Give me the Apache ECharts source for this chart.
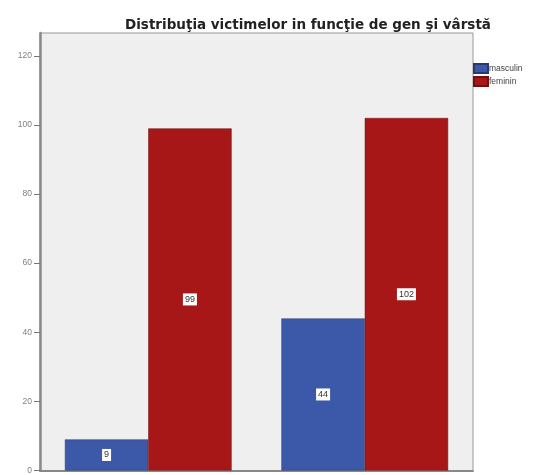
<!DOCTYPE html>
<html><head><meta charset="utf-8">
<script src="https://cdn.jsdelivr.net/npm/echarts@6/dist/echarts.min.js"></script>
<style>html,body{margin:0;padding:0;background:#fff}#c{width:534px;height:475px}</style>
</head><body><div id="c"></div>
<script>
const categories = ["Grupa 1", "Grupa 2"];
const masculin = [9, 44];
const feminin = [99, 102];
const seriesNames = ["masculin", "feminin"];
const yTicks = [0, 20, 40, 60, 80, 100, 120];

const chart = echarts.init(document.getElementById('c'));
const lbl = {
  show: true, position: 'inside', color: '#333', fontSize: 9,
  fontFamily: 'Liberation Sans', backgroundColor: '#fff', padding: [2, 2, 1, 2]
};
chart.setOption({
  animation: false,
  title: {
    text: 'Distribuţia victimelor in funcţie de gen şi vârstă',
    left: 303, textAlign: 'center', top: 13,
    textStyle: { fontSize: 13.5, fontWeight: 'bold', color: '#222', fontFamily: 'DejaVu Sans' }
  },
  legend: {
    orient: 'vertical', left: 473, top: 63, padding: 0, itemWidth: 14, itemHeight: 9, itemGap: 2,
    icon: 'rect',
    textStyle: { fontSize: 8.5, color: '#444', fontFamily: 'Liberation Sans', padding: [0, 0, 0, -4] },
    data: seriesNames
  },
  grid: {
    left: 40, top: 33, width: 433, height: 439, show: true,
    backgroundColor: '#efefef', borderColor: '#999', borderWidth: 1
  },
  xAxis: {
    type: 'category', data: categories,
    axisLine: { lineStyle: { color: '#888', width: 2 } },
    axisTick: { show: false }, axisLabel: { show: false }
  },
  yAxis: {
    type: 'value', min: 0, max: 126.6, interval: 20,
    axisLine: { show: true, lineStyle: { color: '#8a8a8a', width: 2.5 } },
    axisTick: { show: true, length: 6, lineStyle: { color: '#777' } },
    splitLine: { show: false },
    axisLabel: {
      showMaxLabel: false, fontSize: 8.5, color: '#808080', margin: 8, fontFamily: 'Liberation Sans',
      formatter: v => yTicks.includes(v) ? String(v) : ''
    }
  },
  series: [
    { name: seriesNames[0], type: 'bar', data: masculin, barGap: '0%', barCategoryGap: '23%',
      itemStyle: { color: '#3c58a8', borderColor: '#2a3a70', borderWidth: 0.5 }, label: lbl },
    { name: seriesNames[1], type: 'bar', data: feminin,
      itemStyle: { color: '#a81717', borderColor: '#701010', borderWidth: 0.5 }, label: lbl }
  ]
});
</script></body></html>
